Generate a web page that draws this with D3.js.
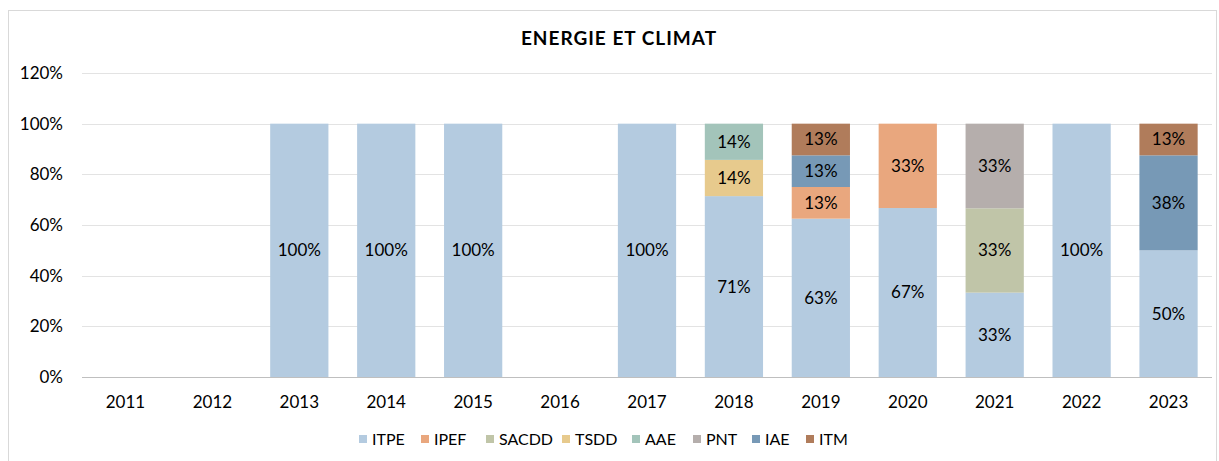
<!DOCTYPE html>
<html>
<head>
<meta charset="utf-8">
<script src="https://cdn.jsdelivr.net/npm/d3@7"></script>
<style>
  body { margin: 0; background: #fff; }
  text { font-family: Lato, "Open Sans", sans-serif; fill: #404040; }
</style>
</head>
<body>
<div class="chart"></div>
<script>
const years = ["2011","2012","2013","2014","2015","2016","2017","2018","2019","2020","2021","2022","2023"];
const seriesNames = ["ITPE","IPEF","SACDD","TSDD","AAE","PNT","IAE","ITM"];
const seriesColors = ["#b4cbe0","#e9a77e","#c0c5a8","#e7ca8d","#a3c4ba","#b5aeac","#7799b6","#b07c5b"];
const ITPE  = [0,0,100,100,100,0,100,71.4,62.5,66.7,33.3,100,50];
const IPEF  = [0,0,0,0,0,0,0,0,12.5,33.3,0,0,0];
const SACDD = [0,0,0,0,0,0,0,0,0,0,33.3,0,0];
const TSDD  = [0,0,0,0,0,0,0,14.3,0,0,0,0,0];
const AAE   = [0,0,0,0,0,0,0,14.3,0,0,0,0,0];
const PNT   = [0,0,0,0,0,0,0,0,0,0,33.4,0,0];
const IAE   = [0,0,0,0,0,0,0,0,12.5,0,0,0,37.5];
const ITM   = [0,0,0,0,0,0,0,0,12.5,0,0,0,12.5];
const yTicks = [0,20,40,60,80,100,120];

const seriesValues = [ITPE, IPEF, SACDD, TSDD, AAE, PNT, IAE, ITM];
const table = years.map((y, i) => {
  const row = {year: y};
  seriesNames.forEach((s, k) => row[s] = seriesValues[k][i]);
  return row;
});

const W = 1219, H = 461;
const svg = d3.select('.chart').append('svg').attr('width', W).attr('height', H);

svg.append('rect').attr('x', 8.5).attr('y', 10.5).attr('width', 1208).attr('height', 470)
  .attr('fill', 'none').attr('stroke', '#d9d9d9');

const plotL = 82, plotR = 1212, plotT = 73, plotB = 377;
const x = d3.scaleBand().domain(years).range([plotL, plotR]).paddingInner(0.33).paddingOuter(0.165);
const y = d3.scaleLinear().domain([0, 120]).range([plotB, plotT]);

svg.append('text').attr('x', 619).attr('y', 45).attr('text-anchor', 'middle')
  .style('font-size', '19px').style('font-weight', 'bold').style('letter-spacing', '1px')
  .style('fill', '#000')
  .text('ENERGIE ET CLIMAT');

// grid
svg.append('g').selectAll('line').data(yTicks.filter(t => t > 0)).enter().append('line')
  .attr('x1', plotL).attr('x2', plotR)
  .attr('y1', d => Math.round(y(d)) + 0.5).attr('y2', d => Math.round(y(d)) + 0.5)
  .attr('stroke', '#e3e3e3');

const yAxis = svg.append('g').attr('transform', `translate(${plotL},0)`)
  .call(d3.axisLeft(y).tickValues(yTicks).tickFormat(d => d + '%').tickSize(0).tickPadding(19));
yAxis.select('.domain').remove();
yAxis.selectAll('text').style('font-size', '17px').style('fill', '#000');

const stack = d3.stack().keys(seriesNames)(table);

const groups = svg.append('g').selectAll('g').data(stack).enter().append('g')
  .attr('fill', (d, i) => seriesColors[i]);

groups.selectAll('rect').data(d => d).enter().append('rect')
  .attr('x', d => x(d.data.year))
  .attr('width', x.bandwidth())
  .attr('y', d => y(d[1]))
  .attr('height', d => y(d[0]) - y(d[1]));

groups.selectAll('text').data(d => d.filter(p => p[1] - p[0] > 0)).enter().append('text')
  .attr('x', d => x(d.data.year) + x.bandwidth() / 2)
  .attr('y', d => y((d[0] + d[1]) / 2))
  .attr('dy', '0.35em')
  .attr('text-anchor', 'middle')
  .style('font-size', '17px').style('fill', '#000')
  .text(d => Math.round(d[1] - d[0]) + '%');

svg.append('line').attr('x1', plotL).attr('x2', plotR)
  .attr('y1', plotB + 0.5).attr('y2', plotB + 0.5).attr('stroke', '#bfbfbf');

const xAxis = svg.append('g').attr('transform', `translate(0,${plotB})`)
  .call(d3.axisBottom(x).tickSize(0).tickPadding(19));
xAxis.select('.domain').remove();
xAxis.selectAll('text').style('font-size', '17px').style('fill', '#000');

// legend
const legX = [359, 421, 486, 562, 632, 693, 752, 806];
const leg = svg.append('g').selectAll('g').data(seriesNames).enter().append('g')
  .attr('transform', (d, i) => `translate(${legX[i]},439)`);
leg.append('rect').attr('x', 0).attr('y', -4).attr('width', 8).attr('height', 8)
  .attr('fill', (d, i) => seriesColors[i]);
leg.append('text').attr('x', 13).attr('dy', '0.35em')
  .style('font-size', '16px').style('fill', '#000').text(d => d);
</script>
</body>
</html>
